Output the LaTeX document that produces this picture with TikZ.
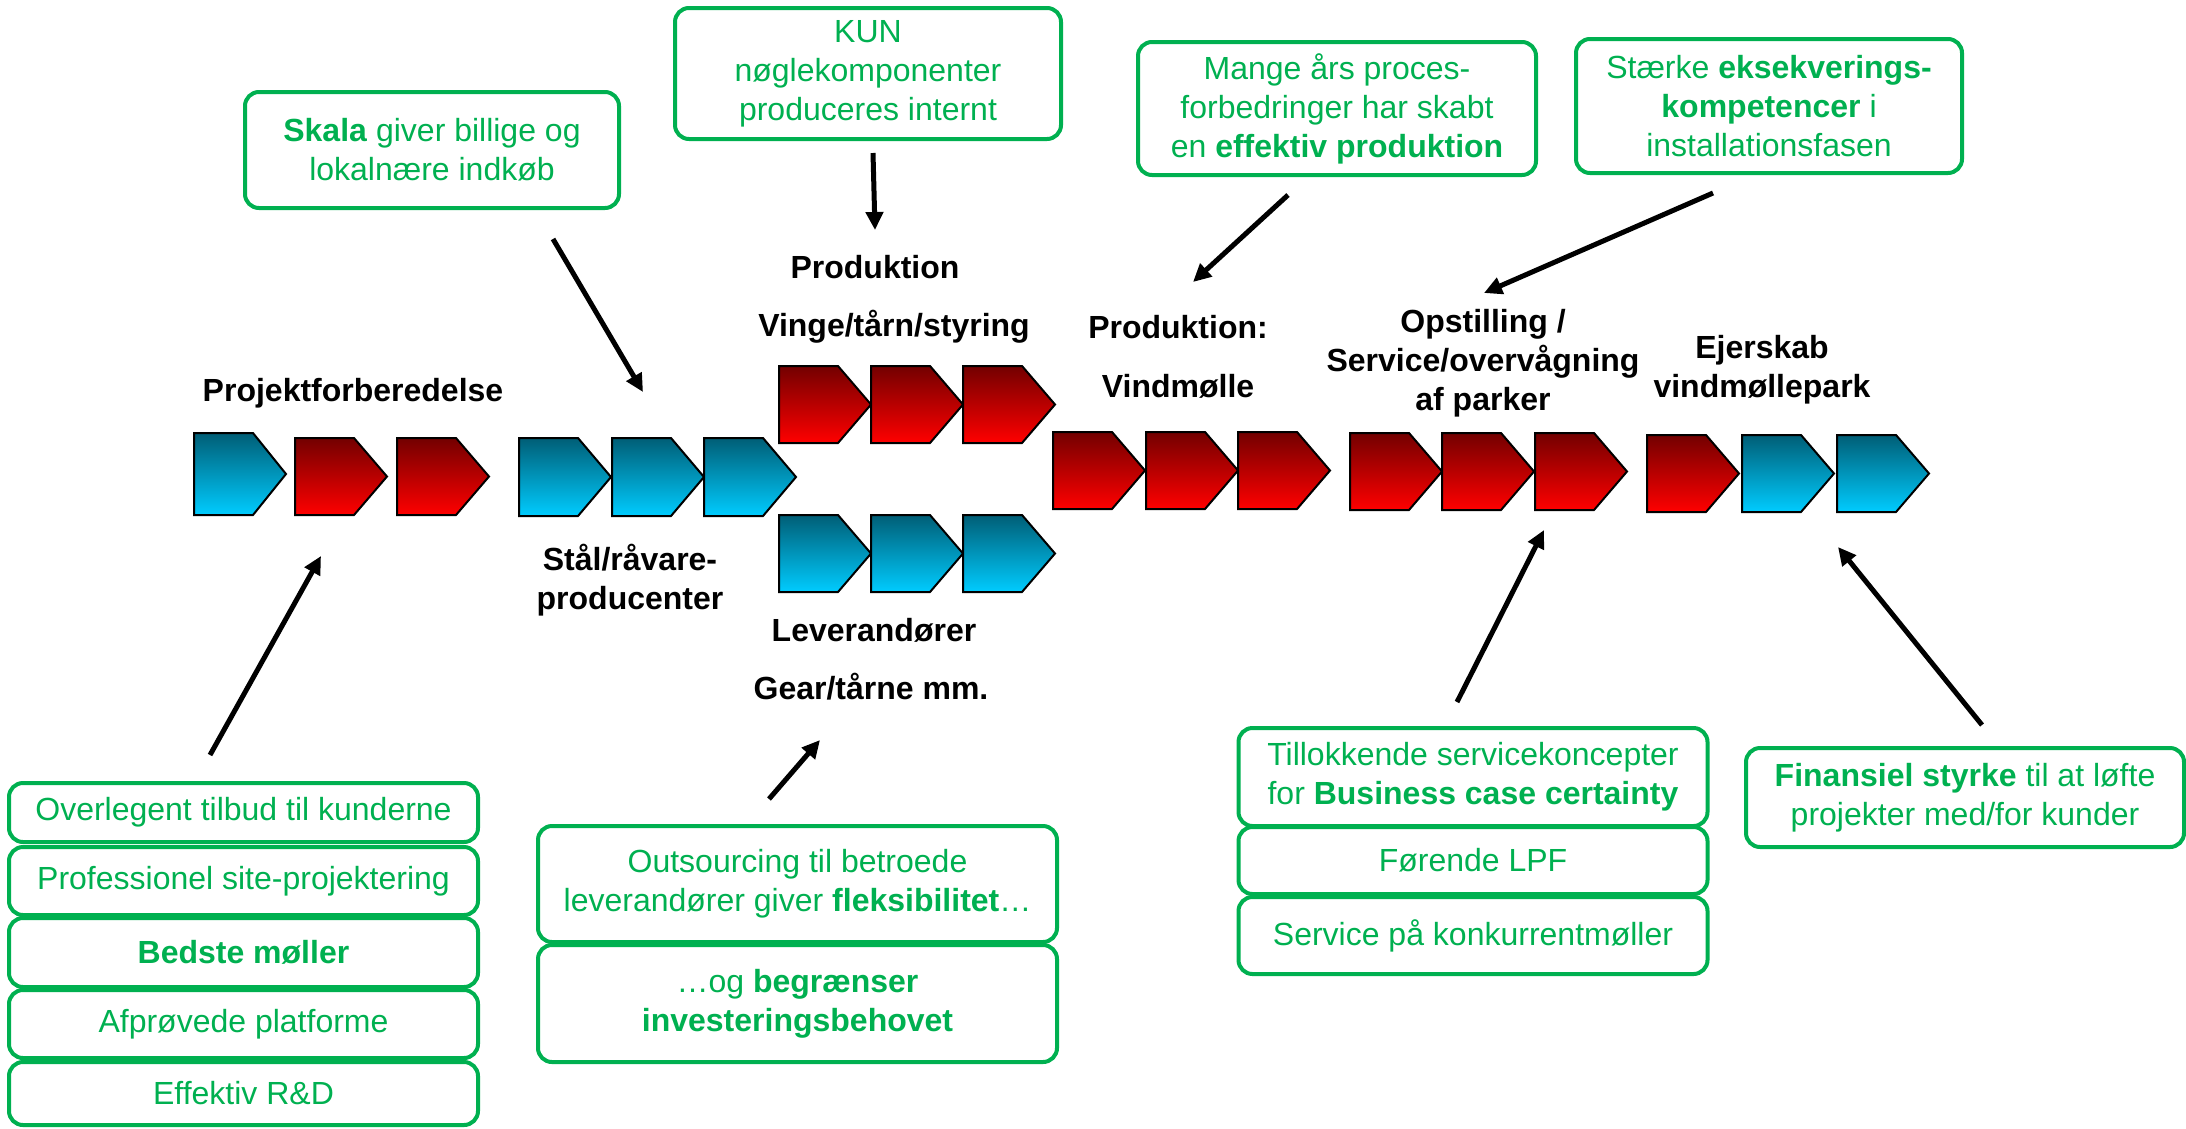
\documentclass[tikz,border=0pt]{standalone}
\usepackage{fontspec}
\setmainfont{Liberation Sans}
\usetikzlibrary{arrows.meta}

\definecolor{okgreen}{HTML}{00B050}
\definecolor{blueTop}{RGB}{0,94,118}
\definecolor{blueBot}{RGB}{0,204,255}
\definecolor{redTop}{RGB}{115,0,0}
\definecolor{redBot}{RGB}{255,0,0}

% one step of a value chain: #1 left x, #2 top y, #3 height, #4 shading style
\newcommand\chevblock[4]{%
  \shade[#4, draw=black, line width=2pt, line join=miter]
    (#1,#2) -- ++(59,0) -- ++(33,#3/2) -- ++(-33,#3/2) -- ++(-59,0) -- cycle;}

\tikzset{
  bluechev/.style={top color=blueTop, bottom color=blueBot},
  redchev/.style={top color=redTop, bottom color=redBot},
  gbox/.style={draw=okgreen, line width=4pt, rounded corners=14pt, text=okgreen,
    align=center, inner sep=0pt, font=\fontsize{32}{39}\selectfont},
  lbl/.style={align=center, inner sep=0pt, font=\bfseries\fontsize{32}{39}\selectfont},
  arr/.style={line width=5pt, -{Triangle[length=18pt,width=17pt]}}
}

\begin{document}
\begin{tikzpicture}[x=1pt,y=-1pt]
\useasboundingbox (0,0) rectangle (2186,1128);

% ---------- value chain ----------
\chevblock{194}{433}{82}{bluechev}
\chevblock{295}{438}{77}{redchev}
\chevblock{397}{438}{77}{redchev}

\chevblock{519}{438}{78}{bluechev}
\chevblock{612}{438}{78}{bluechev}
\chevblock{704}{438}{78}{bluechev}

\chevblock{779}{366}{77}{redchev}
\chevblock{871}{366}{77}{redchev}
\chevblock{963}{366}{77}{redchev}

\chevblock{779}{515}{77}{bluechev}
\chevblock{871}{515}{77}{bluechev}
\chevblock{963}{515}{77}{bluechev}

\chevblock{1053}{432}{77}{redchev}
\chevblock{1146}{432}{77}{redchev}
\chevblock{1238}{432}{77}{redchev}

\chevblock{1350}{433}{77}{redchev}
\chevblock{1442}{433}{77}{redchev}
\chevblock{1535}{433}{77}{redchev}

\chevblock{1647}{435}{77}{redchev}
\chevblock{1742}{435}{77}{bluechev}
\chevblock{1837}{435}{77}{bluechev}

% ---------- stage labels ----------
\node[lbl] (lproj) at (353,393) {Projektforberedelse};
\node[lbl] (lstaal) at (630,580) {Stål/råvare-\\producenter};
\node[lbl] (lprod) at (875,267) {Produktion};
\node[lbl] (lvinge) at (894,327) {Vinge/tårn/styring};
\node[lbl] (llev) at (874,630) {Leverandører};
\node[lbl] (lgear) at (871,687) {Gear/tårne mm.};
\node[lbl] (lprodv) at (1178,327) {Produktion:};
\node[lbl] (lvind) at (1178,386) {Vindmølle};
\node[lbl] (lopst) at (1483,363) {Opstilling /\\Service/overvågning\\af parker};
\node[lbl] (lejer) at (1762,370) {Ejerskab\\vindmøllepark};

% ---------- strengths ----------
\node[gbox, minimum width=374pt, minimum height=116pt] (skala) at (432,150)
  {\textbf{Skala} giver billige og\\lokalnære indkøb};
\node[gbox, minimum width=386pt, minimum height=131pt] (kun) at (868,73.5)
  {KUN\\nøglekomponenter\\produceres internt};
\node[gbox, minimum width=398pt, minimum height=133pt] (mange) at (1337,108.5)
  {Mange års proces-\\forbedringer har skabt\\en \textbf{effektiv produktion}};
\node[gbox, minimum width=386pt, minimum height=134pt] (staerke) at (1769,106)
  {Stærke \textbf{eksekverings-}\\\textbf{kompetencer} i\\installationsfasen};

\node[gbox, minimum width=469pt, minimum height=59pt] (over) at (243.5,812.5)
  {Overlegent tilbud til kunderne};
\node[gbox, minimum width=469pt, minimum height=68pt] (prof) at (243.5,881)
  {Professionel site-projektering};
\node[gbox, minimum width=469pt, minimum height=69pt] (bedste) at (243.5,952.5)
  {\textbf{Bedste møller}};
\node[gbox, minimum width=469pt, minimum height=68pt] (afpr) at (243.5,1024)
  {Afprøvede platforme};
\node[gbox, minimum width=469pt, minimum height=63pt] (rd) at (243.5,1093.5)
  {Effektiv R\&D};

\node[gbox, minimum width=519pt, minimum height=116pt] (outs) at (797.5,884)
  {Outsourcing til betroede\\leverandører giver \textbf{fleksibilitet}…};
\node[gbox, minimum width=519pt, minimum height=117pt] (begr) at (797.5,1003.5)
  {…og \textbf{begrænser}\\\textbf{investeringsbehovet}};

\node[gbox, minimum width=469pt, minimum height=98pt] (till) at (1473,777)
  {Tillokkende servicekoncepter\\for \textbf{Business case certainty}};
\node[gbox, minimum width=469pt, minimum height=67pt] (lpf) at (1473,860.5)
  {Førende LPF};
\node[gbox, minimum width=469pt, minimum height=77pt] (konk) at (1473,935.5)
  {Service på konkurrentmøller};

\node[gbox, minimum width=438pt, minimum height=99pt] (fin) at (1965,797.5)
  {\textbf{Finansiel styrke} til at løfte\\projekter med/for kunder};

% ---------- pointers ----------
\coordinate (p1s) at (210,755);  \coordinate (p1e) at (321,556);
\coordinate (p2s) at (553,239);  \coordinate (p2e) at (643,392);
\coordinate (p3s) at (873,153);  \coordinate (p3e) at (875,230);
\coordinate (p4s) at (1288,195); \coordinate (p4e) at (1193,282);
\coordinate (p5s) at (1713,193); \coordinate (p5e) at (1484,293);
\coordinate (p6s) at (769,799);  \coordinate (p6e) at (820,740);
\coordinate (p7s) at (1457,702); \coordinate (p7e) at (1544,530);
\coordinate (p8s) at (1982,725); \coordinate (p8e) at (1838,547);

\foreach \i in {1,...,8} \draw[arr] (p\i s) -- (p\i e);
\end{tikzpicture}
\end{document}
